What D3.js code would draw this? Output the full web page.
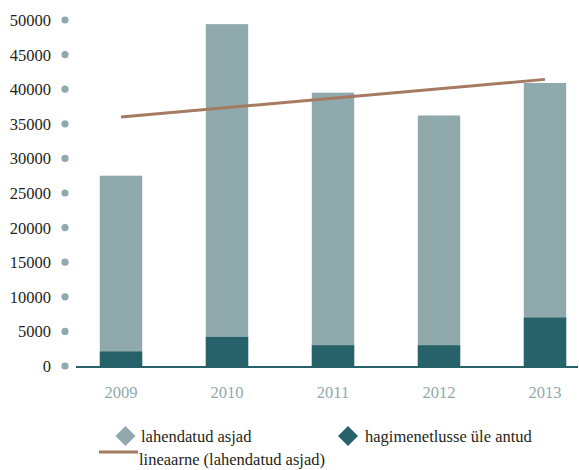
<!DOCTYPE html>
<html><head><meta charset="utf-8">
<script src="https://cdn.jsdelivr.net/npm/d3@7"></script>
<style>
  body { margin: 0; background: #fff; font-family: 'Liberation Serif', 'Times New Roman', Times, serif; }
  svg text { font-family: 'Liberation Serif', 'Times New Roman', Times, serif; }
</style>
</head><body><svg id="c" width="579" height="470" font-family="Liberation Serif, Times New Roman, Times, serif"></svg>
<script>
const years = ["2009","2010","2011","2012","2013"];
const resolved = [27500, 49400, 39500, 36200, 40900];
const transferred = [2100, 4200, 3000, 3000, 7000];
const yTicks = [0,5000,10000,15000,20000,25000,30000,35000,40000,45000,50000];
const seriesNames = ["lahendatud asjad","hagimenetlusse üle antud","lineaarne (lahendatud asjad)"];

const cLight="#8fa9ac", cDark="#27626a", cTrend="#a57a61";
const svg=d3.select("#c");
const x=d3.scaleBand().domain(years).range([68,598]).paddingInner(0.6).paddingOuter(0.3);
const y=d3.scaleLinear().domain([0,50000]).range([366,20]);
const txt=(sel)=>sel.attr("font-size",16.5);

// y ticks: dots + labels
yTicks.forEach(t=>{
  svg.append("circle").attr("cx",65).attr("cy",y(t)).attr("r",3.6).attr("fill",cLight);
  svg.append("text").attr("x",51).attr("y",y(t)+6).attr("text-anchor","end")
    .call(txt).attr("fill","#231f20").text(String(t));
});

// bars
svg.append("g").selectAll("rect").data(years).join("rect")
  .attr("x",d=>x(d)).attr("width",x.bandwidth())
  .attr("y",(d,i)=>y(resolved[i])).attr("height",(d,i)=>y(0)-y(resolved[i])).attr("fill",cLight);
svg.append("g").selectAll("rect").data(years).join("rect")
  .attr("x",d=>x(d)).attr("width",x.bandwidth())
  .attr("y",(d,i)=>y(transferred[i])).attr("height",(d,i)=>y(0)-y(transferred[i])).attr("fill",cDark);

// axis line
svg.append("line").attr("x1",76).attr("x2",578).attr("y1",y(0)+1).attr("y2",y(0)+1)
  .attr("stroke",cDark).attr("stroke-width",2.2);

// x labels
years.forEach(yr=>{
  svg.append("text").attr("x",x(yr)+x.bandwidth()/2).attr("y",398).attr("text-anchor","middle")
    .call(txt).attr("fill","#8fa9ac").text(yr);
});

// linear trend (least squares on resolved)
const n=resolved.length, xs=d3.range(n);
const mx=d3.mean(xs), my=d3.mean(resolved);
const slope=d3.sum(xs,(v,i)=>(v-mx)*(resolved[i]-my))/d3.sum(xs,v=>(v-mx)*(v-mx));
const icpt=my-slope*mx;
const trend=xs.map(i=>[x(years[i])+x.bandwidth()/2, y(icpt+slope*i)]);
svg.append("path").attr("d",d3.line()([trend[0],trend[n-1]]))
  .attr("stroke",cTrend).attr("stroke-width",3).attr("fill","none");

// legend
const diamond=(cx,cy,s,c)=>svg.append("path").attr("d",`M${cx},${cy-s}L${cx+s},${cy}L${cx},${cy+s}L${cx-s},${cy}Z`).attr("fill",c);
diamond(125.5,436,10,cLight);
svg.append("text").attr("x",141).attr("y",442).call(txt).attr("fill","#231f20").text(seriesNames[0]);
diamond(348,436,10,cDark);
svg.append("text").attr("x",365).attr("y",442).call(txt).attr("fill","#231f20").text(seriesNames[1]);
svg.append("line").attr("x1",99).attr("x2",138).attr("y1",452).attr("y2",452).attr("stroke",cTrend).attr("stroke-width",3);
svg.append("text").attr("x",139).attr("y",465).call(txt).attr("fill","#231f20").text(seriesNames[2]);
</script></body></html>
